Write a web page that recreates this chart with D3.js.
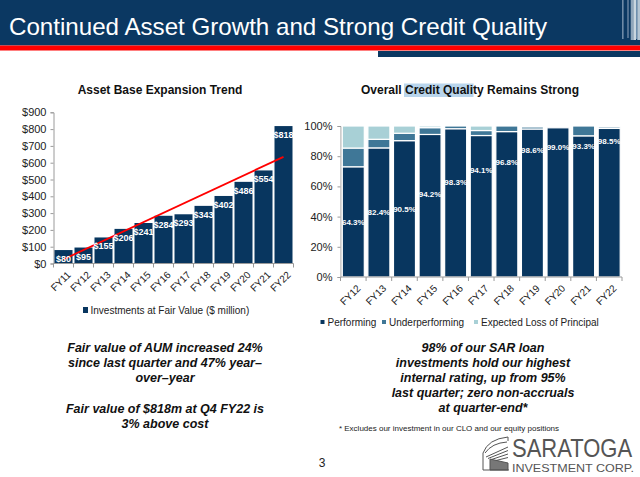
<!DOCTYPE html>
<html><head><meta charset="utf-8">
<script src="https://cdn.jsdelivr.net/npm/d3@7"></script>
<style>
html,body{margin:0;padding:0;background:#fff;}
svg{display:block;font-family:"Liberation Sans",Arial,sans-serif;}
</style></head>
<body>
<svg id="c" width="640" height="477"></svg>
<script>
// ---------- DATA ----------
const assetYears = ["FY11","FY12","FY13","FY14","FY15","FY16","FY17","FY18","FY19","FY20","FY21","FY22"];
const assetValues = [80,95,155,206,241,284,293,343,402,486,554,818];
const assetTicks = [0,100,200,300,400,500,600,700,800,900];

const qualityYears = ["FY12","FY13","FY14","FY15","FY16","FY17","FY18","FY19","FY20","FY21","FY22"];
const performing      = [73.0,85.5,90.3,94.4,98.2,93.7,96.3,98.0,98.8,93.5,98.4];
const underperforming = [12.4, 5.7, 4.9, 4.5, 1.8, 3.3, 3.7, 1.5, 0.0, 6.5, 1.1];
const expectedLoss    = [14.6, 8.8, 4.8, 1.1, 0.0, 3.0, 0.0, 0.5, 0.0, 0.0, 0.5];
const qualityLabels   = ["64.3%","82.4%","90.5%","94.2%","98.3%","94.1%","96.8%","98.6%","99.0%","93.3%","98.5%"];
const qualityLabelAt  = [36.2,42.8,45.0,54.6,62.7,70.4,75.9,83.9,85.7,86.8,90.1];
const qualityTicks = [0,20,40,60,80,100];
const qualitySeries = ["Performing","Underperforming","Expected Loss of Principal"];

// ---------- STYLE ----------
const NAVY = "#08365f", MID = "#3f7797", LIGHT = "#a8d0d6", RED = "#ff0000";
const AXIS = "#9a9a9a";
const svg = d3.select("#c");

// header
svg.append("rect").attr("x",0).attr("y",0).attr("width",640).attr("height",45.5).attr("fill","#0b3862");
const stripes = [[622,1.6,"#6e8aa6",39],[627,2,"#4f6f90",38],[630.7,2.6,"#8fa6bb",40],[633.3,2.7,"#c9d6df",40],[636,1.3,"#6d8fae",39],[637.3,2.7,"#b3c5d3",40]];
stripes.forEach(s=>svg.append("rect").attr("x",s[0]).attr("y",0).attr("width",s[1]).attr("height",s[3]).attr("fill",s[2]));
svg.append("rect").attr("x",0).attr("y",45.5).attr("width",640).attr("height",5).attr("fill",RED);
svg.append("rect").attr("x",378).attr("y",51).attr("width",262).attr("height",6).attr("fill","#0b3862");
svg.append("text").attr("x",9).attr("y",35).attr("fill","#fff").attr("font-size",24)
  .attr("textLength",538).attr("lengthAdjust","spacingAndGlyphs")
  .text("Continued Asset Growth and Strong Credit Quality");

// ---------- LEFT CHART ----------
const xL = d3.scaleBand().domain(assetYears).range([53.5,293.5]).paddingInner(0.1).paddingOuter(0.05);
const yL = d3.scaleLinear().domain([0,900]).range([263.5,112.3]);

svg.append("text").attr("x",160).attr("y",94).attr("text-anchor","middle")
  .attr("font-size",12).attr("font-weight","bold").attr("fill","#111").text("Asset Base Expansion Trend");

const gyL = svg.append("g").attr("transform","translate(53.5,0)")
  .call(d3.axisLeft(yL).tickValues(assetTicks).tickSize(3).tickFormat(d=>"$"+d));
gyL.select(".domain").attr("stroke",AXIS);
gyL.selectAll(".tick line").attr("stroke",AXIS);
gyL.selectAll(".tick text").attr("font-size",11).attr("fill","#222").attr("font-family","Liberation Sans, Arial").attr("x",-7);

svg.append("g").selectAll("rect").data(assetValues).join("rect")
  .attr("x",(d,i)=>xL(assetYears[i])).attr("width",xL.bandwidth())
  .attr("y",d=>yL(d)).attr("height",d=>yL(0)-yL(d)).attr("fill",NAVY);

// trend line (least squares)
const n = assetValues.length, mx = (n-1)/2, my = d3.mean(assetValues);
const slope = d3.sum(assetValues,(v,i)=>(i-mx)*(v-my))/d3.sum(assetValues,(v,i)=>(i-mx)*(i-mx));
const icpt = my - slope*mx;
svg.append("line")
  .attr("x1",xL(assetYears[0])+xL.bandwidth()/2).attr("y1",yL(icpt))
  .attr("x2",xL(assetYears[n-1])+xL.bandwidth()/2).attr("y2",yL(icpt+slope*(n-1)))
  .attr("stroke",RED).attr("stroke-width",1.8);

svg.append("g").selectAll("text").data(assetValues).join("text")
  .attr("x",(d,i)=>xL(assetYears[i])+xL.bandwidth()/2).attr("y",d=>yL(d)+12)
  .attr("text-anchor","middle").attr("font-size",9).attr("font-weight","bold").attr("fill","#fff")
  .text(d=>"$"+d);

// x axis
const gxL = svg.append("g").attr("transform","translate(0,263.5)");
gxL.append("line").attr("x1",53.5).attr("x2",293.5).attr("stroke",AXIS);
gxL.selectAll("line.t").data(d3.range(n+1)).join("line").attr("class","t")
  .attr("x1",i=>53.5+i*20).attr("x2",i=>53.5+i*20).attr("y1",0).attr("y2",4).attr("stroke",AXIS);
gxL.selectAll("text").data(assetYears).join("text")
  .attr("transform",d=>`translate(${xL(d)+xL.bandwidth()/2+3},7) rotate(-45)`)
  .attr("text-anchor","end").attr("dy","0.7em").attr("font-size",10).attr("fill","#222").text(d=>d);

// legend left
svg.append("rect").attr("x",83).attr("y",307).attr("width",5).attr("height",6).attr("fill",NAVY);
svg.append("text").attr("x",90.5).attr("y",313.5).attr("font-size",10).attr("fill","#222").text("Investments at Fair Value ($ million)");

// ---------- RIGHT CHART ----------
const xR = d3.scaleBand().domain(qualityYears).range([340.5,622]).paddingInner(0.14).paddingOuter(0.07);
const yR = d3.scaleLinear().domain([0,100]).range([277,126]);

const hl = svg.append("rect").attr("fill","#b9d5ec");
const titleR = svg.append("text").attr("x",470).attr("y",94).attr("text-anchor","middle")
  .attr("font-size",12).attr("font-weight","bold").attr("fill","#111");
const tPre = "Overall ", tHl = "Credit Quali", tPost = "ty Remains Strong";
titleR.text(tPre+tHl+tPost);
{
  const node = titleR.node();
  const total = node.getComputedTextLength();
  const x0 = 470 - total/2;
  const a = node.getSubStringLength(0,tPre.length);
  const w = node.getSubStringLength(tPre.length,tHl.length);
  hl.attr("x",x0+a-1).attr("y",83.5).attr("width",w+1.5).attr("height",13.5);
}

const gyR = svg.append("g").attr("transform","translate(340.5,0)")
  .call(d3.axisLeft(yR).tickValues(qualityTicks).tickSize(3).tickFormat(d=>d+"%"));
gyR.select(".domain").attr("stroke",AXIS);
gyR.selectAll(".tick line").attr("stroke",AXIS);
gyR.selectAll(".tick text").attr("font-size",11).attr("fill","#222").attr("font-family","Liberation Sans, Arial").attr("x",-8);

const rows = qualityYears.map((y,i)=>({year:y,Performing:performing[i],Underperforming:underperforming[i],"Expected Loss of Principal":expectedLoss[i]}));
const stack = d3.stack().keys(qualitySeries)(rows);
const colors = d3.scaleOrdinal().domain(qualitySeries).range([NAVY,MID,LIGHT]);
svg.append("g").selectAll("g").data(stack).join("g").attr("fill",d=>colors(d.key))
  .selectAll("rect").data(d=>d).join("rect")
  .attr("x",d=>xR(d.data.year)).attr("width",xR.bandwidth())
  .attr("y",d=>yR(d[1])).attr("height",d=>Math.max(0,yR(d[0])-yR(d[1])))
  .attr("stroke","#fff").attr("stroke-width",1.2);

svg.append("g").selectAll("text").data(qualityLabels).join("text")
  .attr("x",(d,i)=>xR(qualityYears[i])+xR.bandwidth()/2).attr("y",(d,i)=>yR(qualityLabelAt[i]))
  .attr("dy","0.35em").attr("text-anchor","middle").attr("font-size",8).attr("font-weight","bold")
  .attr("fill","#fff").text(d=>d);

const gxR = svg.append("g").attr("transform","translate(0,277)");
gxR.append("line").attr("x1",340.5).attr("x2",622).attr("stroke",AXIS);
const stepR = xR.step();
gxR.selectAll("line.t").data(d3.range(qualityYears.length+1)).join("line").attr("class","t")
  .attr("x1",i=>xR(qualityYears[0]) - xR.paddingInner()*stepR/2 + i*stepR)
  .attr("x2",i=>xR(qualityYears[0]) - xR.paddingInner()*stepR/2 + i*stepR)
  .attr("y1",0).attr("y2",4).attr("stroke",AXIS);
gxR.selectAll("text").data(qualityYears).join("text")
  .attr("transform",d=>`translate(${xR(d)+xR.bandwidth()/2+3},7) rotate(-45)`)
  .attr("text-anchor","end").attr("dy","0.7em").attr("font-size",10).attr("fill","#222").text(d=>d);

// legend right
const legX = [320.5,382,474];
qualitySeries.forEach((s,i)=>{
  svg.append("rect").attr("x",legX[i]).attr("y",320).attr("width",4).attr("height",4).attr("fill",colors(s));
  svg.append("text").attr("x",legX[i]+7).attr("y",326).attr("font-size",10).attr("fill","#222").text(s);
});

// ---------- TEXT BLOCKS ----------
function block(lines,cx,y0,lh){
  const t = svg.append("text").attr("text-anchor","middle").attr("font-size",12.5)
    .attr("font-weight","bold").attr("font-style","italic").attr("fill","#111");
  lines.forEach((l,i)=>{ if(l!==null) t.append("tspan").attr("x",cx).attr("y",y0+i*lh).text(l); });
}
block(["Fair value of AUM increased 24%","since last quarter and 47% year–","over–year",null,"Fair value of $818m at Q4 FY22 is","3% above cost"],165,352,15.2);
block(["98% of our SAR loan","investments hold our highest","internal rating, up from 95%","last quarter; zero non-accruals","at quarter-end*"],483,352,15);
svg.append("text").attr("x",449).attr("y",431).attr("text-anchor","middle").attr("font-size",8).attr("fill","#222")
  .text("* Excludes our investment in our CLO and our equity positions");
svg.append("text").attr("x",322).attr("y",467).attr("text-anchor","middle").attr("font-size",12).attr("fill","#222").text("3");

// ---------- LOGO ----------
const lg = svg.append("g").attr("stroke","#555").attr("fill","none").attr("stroke-width",1);
lg.append("path").attr("d","M483,470 L483,453 Q488,439 508,437 L508,441");
lg.append("path").attr("d","M485,453 Q492,443 507,442");
[0,1,2,3].forEach(i=>lg.append("line").attr("x1",486+i*2).attr("y1",457+i*1.5).attr("x2",508).attr("y2",447+i*3.5));
lg.append("path").attr("d","M490,470 L490,459 L508,463 L508,470 Z").attr("fill","#777");
lg.append("line").attr("x1",483).attr("y1",470).attr("x2",509).attr("y2",470);
svg.append("text").attr("transform","translate(512,457) scale(1,1.2)").attr("font-size",22).attr("fill","#555")
  .text("SARATOGA");
svg.append("text").attr("x",512).attr("y",472).attr("font-size",11).attr("fill","#555")
  .attr("textLength",122).attr("lengthAdjust","spacingAndGlyphs").text("INVESTMENT CORP.");
</script>
</body></html>
